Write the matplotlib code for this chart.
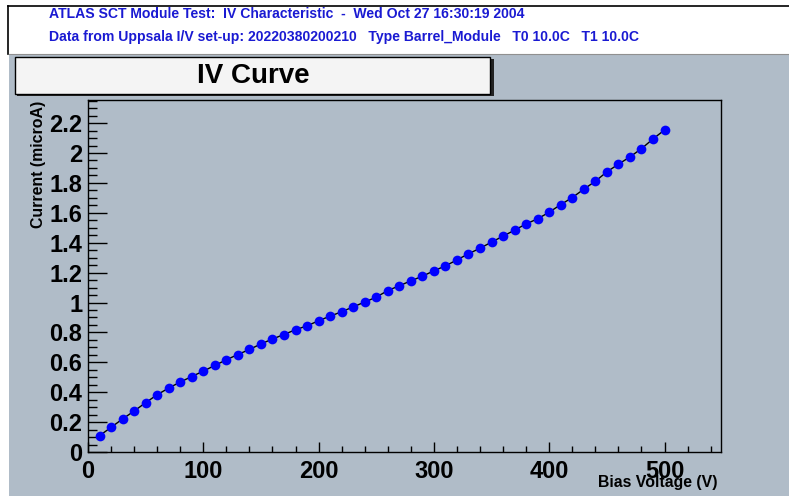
import numpy as np
import matplotlib
matplotlib.use("Agg")
import matplotlib.pyplot as plt
from matplotlib.patches import Rectangle
from matplotlib.lines import Line2D
from matplotlib.ticker import MultipleLocator

plt.rcParams['font.family'] = ['Liberation Sans', 'DejaVu Sans']

# bias scan, 10 V steps
bias_v = list(range(10, 510, 10))
current_ua = [
    0.109, 0.165, 0.221, 0.274, 0.330, 0.383, 0.428, 0.468, 0.505, 0.541,
    0.579, 0.617, 0.652, 0.686, 0.723, 0.756, 0.786, 0.818, 0.844, 0.878,
    0.909, 0.938, 0.971, 1.003, 1.036, 1.080, 1.112, 1.145, 1.176, 1.212,
    1.245, 1.285, 1.326, 1.363, 1.404, 1.444, 1.484, 1.526, 1.560, 1.604,
    1.655, 1.702, 1.758, 1.811, 1.874, 1.925, 1.974, 2.029, 2.094, 2.154,
]

header1 = "ATLAS SCT Module Test:  IV Characteristic  -  Wed Oct 27 16:30:19 2004"
header2 = "Data from Uppsala I/V set-up: 20220380200210   Type Barrel_Module   T0 10.0C   T1 10.0C"

W, H = 789, 496
fig = plt.figure(figsize=(W / 100, H / 100), dpi=100, facecolor="white")

def fx(px):
    return px / W

def fy(py):
    return 1 - py / H

pad_col = "#b0bcc8"
blue_txt = "#1a1ad2"

# grey pad, behind the axes
fig.patches.append(Rectangle((fx(9), 0), 1 - fx(9), fy(54), transform=fig.transFigure,
                             facecolor=pad_col, edgecolor="none", zorder=-1))
# header frame
fig.add_artist(Line2D([fx(8), 1], [fy(6), fy(6)], color="black", lw=1.2))
fig.add_artist(Line2D([fx(8), fx(8)], [fy(6), fy(54)], color="black", lw=1.2))
fig.add_artist(Line2D([fx(9), 1], [fy(54), fy(54)], color="#909090", lw=0.8))

fig.text(fx(49), fy(13.5), header1, color=blue_txt, fontsize=10.1, fontweight="bold",
         ha="left", va="center")
fig.text(fx(49), fy(37.5), header2, color=blue_txt, fontsize=10.1, fontweight="bold",
         ha="left", va="center")

# title box with shadow
fig.patches.append(Rectangle((fx(17), fy(96)), fx(492) - fx(15), fy(57) - fy(94),
                             transform=fig.transFigure, facecolor="#222222",
                             edgecolor="none", zorder=1))
fig.patches.append(Rectangle((fx(15), fy(94)), fx(490) - fx(15), fy(57) - fy(94),
                             transform=fig.transFigure, facecolor="#f4f4f4",
                             edgecolor="black", lw=1.0, zorder=2))
fig.text(fx(253), fy(76), "IV Curve", fontsize=20, fontweight="bold",
         ha="center", va="center", zorder=3)

ax = fig.add_axes([fx(88), fy(452), fx(721) - fx(88), fy(99.5) - fy(452)])
ax.set_facecolor(pad_col)
ax.plot(bias_v, current_ua, color="black", lw=1.0, zorder=2)
ax.plot(bias_v, current_ua, "o", color="#0000ff", markersize=7.0,
        markeredgewidth=0, zorder=3)

ax.set_xlim(0, 549)
ax.set_ylim(0, 2.358)
ax.xaxis.set_major_locator(MultipleLocator(100))
ax.xaxis.set_minor_locator(MultipleLocator(20))
ax.yaxis.set_major_locator(MultipleLocator(0.2))
ax.yaxis.set_minor_locator(MultipleLocator(0.05))
ax.yaxis.set_major_formatter(plt.FuncFormatter(lambda v, p: f"{v:.1f}".rstrip("0").rstrip(".")))
ax.xaxis.set_major_formatter(plt.FuncFormatter(lambda v, p: f"{v:.0f}"))

ax.tick_params(axis="both", which="both", direction="in", top=False, right=False,
               width=1.0, color="black")
ax.tick_params(axis="y", which="major", length=13.7, labelsize=17, pad=4)
ax.tick_params(axis="y", which="minor", length=6.5)
ax.tick_params(axis="x", which="major", length=7.2, labelsize=17, pad=6)
ax.tick_params(axis="x", which="minor", length=4.0)
for lab in ax.get_xticklabels() + ax.get_yticklabels():
    lab.set_fontweight("bold")
for s in ax.spines.values():
    s.set_linewidth(1.0)
    s.set_color("black")

fig.text(fx(718), fy(482), "Bias Voltage (V)", fontsize=11.4, fontweight="bold",
         ha="right", va="center")
fig.text(fx(38), fy(101), "Current (microA)", fontsize=11.4, fontweight="bold",
         rotation=90, ha="center", va="top")

fig.savefig("out.png", dpi=100, facecolor="white")
